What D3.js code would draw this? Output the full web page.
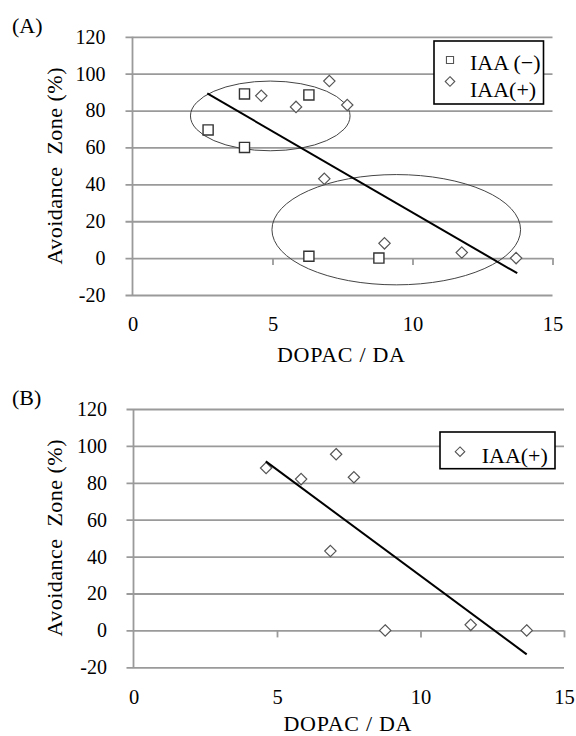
<!DOCTYPE html>
<html>
<head>
<meta charset="utf-8">
<script src="https://cdn.jsdelivr.net/npm/d3@7"></script>
<style>
  html, body { margin: 0; padding: 0; background: #fff; }
  svg { display: block; }
</style>
</head>
<body>
<svg id="chart" width="576" height="736" font-family="Liberation Serif"></svg>
<script>
// ---------- data ----------
const xTicks = [0, 5, 10, 15];
const yTicks = [-20, 0, 20, 40, 60, 80, 100, 120];

// Panel A
const aMinusX = [2.7, 4.0, 4.0, 6.3, 6.3, 8.8];
const aMinusY = [69.5, 89, 60, 88.5, 1, 0];
const aPlusX = [4.6, 5.84, 7.03, 7.67, 6.85, 9.0, 11.76, 13.7];
const aPlusY = [88, 82, 96, 83, 43, 8, 3, 0];
const aTrendX = [2.67, 13.74];
const aTrendY = [89.3, -8.2];
const aEllipseCx = [4.92, 9.42];
const aEllipseCy = [77.1, 15.4];
const aEllipseRx = [2.85, 4.44];
const aEllipseRy = [18.9, 29.9];

// Panel B
const bPlusX = [4.62, 5.84, 7.06, 7.68, 6.86, 8.77, 11.75, 13.7];
const bPlusY = [88, 82, 95.5, 83, 43, 0, 3, 0];
const bTrendX = [4.61, 13.7];
const bTrendY = [91.6, -13.0];

const labelMinus = "IAA\u2009(\u2212)";
const labelPlus = "IAA(+)";
const xTitle = "DOPAC / DA";
const yTitle = "Avoidance  Zone (%)";

// ---------- drawing ----------
const FONT = '"Liberation Serif"';
const svg = d3.select("#chart");
const GRID = "#9a9a9a";

function txt(sel, size) {
  return sel.attr("font-family", "Liberation Serif").style("font-family", FONT)
    .attr("font-size", size).style("fill", "#000");
}

function panel(opt) {
  const x = d3.scaleLinear().domain([0, 15]).range([opt.x0, opt.x1]);
  const y = d3.scaleLinear().domain([-20, 120]).range([opt.yBottom, opt.yTop]);
  const g = svg.append("g");

  const stub = 7;
  const yAxis = d3.axisLeft(y).tickValues(yTicks).tickFormat(d => String(d))
    .tickSizeInner(-(opt.x1 - opt.x0 + stub)).tickSizeOuter(0).tickPadding(opt.x0 - stub - opt.yLabelRight);
  const ya = g.append("g").attr("transform", `translate(${opt.x0 - stub},0)`).call(yAxis)
    .attr("font-family", "Liberation Serif").attr("font-size", 20);
  ya.select(".domain").remove();
  ya.selectAll(".tick line").attr("stroke", GRID).attr("stroke-width", 1.8);
  txt(ya.selectAll(".tick text"), 20);

  g.append("line").attr("x1", x(0)).attr("x2", x(0)).attr("y1", y(120)).attr("y2", y(-20))
    .attr("stroke", GRID).attr("stroke-width", 1.8);

  const xMarks = d3.axisBottom(x).tickValues(xTicks.slice(1)).tickSize(7).tickFormat("");
  const xm = g.append("g").attr("transform", `translate(0,${y(0)})`).call(xMarks);
  xm.select(".domain").remove();
  xm.selectAll(".tick line").attr("stroke", GRID).attr("stroke-width", 1.8);

  const xLabels = d3.axisBottom(x).tickValues(xTicks).tickSize(0).tickPadding(opt.xLabelPad).tickFormat(d => String(d));
  const xl = g.append("g").attr("transform", `translate(0,${y(-20)})`).call(xLabels)
    .attr("font-family", "Liberation Serif").attr("font-size", 20);
  xl.select(".domain").remove();
  txt(xl.selectAll(".tick text"), 20.5);

  txt(g.append("text").attr("x", opt.xTitleX).attr("y", opt.xTitleY).attr("text-anchor", "middle")
    .attr("textLength", 128).attr("lengthAdjust", "spacing").text(xTitle), 22);
  txt(g.append("text").attr("transform", `translate(${opt.yTitleX},${opt.yTitleY}) rotate(-90)`)
    .attr("text-anchor", "middle").attr("textLength", 197).attr("lengthAdjust", "spacing")
    .style("white-space", "pre").text(yTitle), 22);
  txt(g.append("text").attr("x", 12).attr("y", opt.panelLabelY).text(opt.panelLabel), 22);

  return { g, x, y };
}

function drawDiamonds(g, x, y, xs, ys, size) {
  const sym = d3.symbol().type(d3.symbolDiamond2).size(size);
  g.selectAll(null).data(d3.range(xs.length)).enter().append("path")
    .attr("d", sym)
    .attr("transform", i => `translate(${x(xs[i])},${y(ys[i])})`)
    .attr("fill", "#fff").attr("stroke", "#555").attr("stroke-width", 1.2);
}
function drawSquares(g, x, y, xs, ys, size) {
  const sym = d3.symbol().type(d3.symbolSquare2).size(size);
  g.selectAll(null).data(d3.range(xs.length)).enter().append("path")
    .attr("d", sym)
    .attr("transform", i => `translate(${x(xs[i])},${y(ys[i])})`)
    .attr("fill", "#fff").attr("stroke", "#333").attr("stroke-width", 1.4);
}
function drawTrend(g, x, y, xs, ys) {
  const line = d3.line().x(i => x(xs[i])).y(i => y(ys[i]));
  g.append("path").attr("d", line(d3.range(xs.length)))
    .attr("fill", "none").attr("stroke", "#000").attr("stroke-width", 2);
}

// ----- Panel A -----
const A = panel({
  x0: 132.5, x1: 552.5, yTop: 36.8, yBottom: 295, yLabelRight: 105.5,
  xLabelPad: 21, xTitleX: 341, xTitleY: 362, yTitleX: 62, yTitleY: 166,
  panelLabel: "(A)", panelLabelY: 32.5
});
A.g.selectAll(null).data(d3.range(aEllipseCx.length)).enter().append("ellipse")
  .attr("cx", i => A.x(aEllipseCx[i])).attr("cy", i => A.y(aEllipseCy[i]))
  .attr("rx", i => A.x(aEllipseCx[i] + aEllipseRx[i]) - A.x(aEllipseCx[i]))
  .attr("ry", i => A.y(aEllipseCy[i] - aEllipseRy[i]) - A.y(aEllipseCy[i]))
  .attr("fill", "none").attr("stroke", "#444").attr("stroke-width", 1);
drawSquares(A.g, A.x, A.y, aMinusX, aMinusY, 130);
drawDiamonds(A.g, A.x, A.y, aPlusX, aPlusY, 82);
drawTrend(A.g, A.x, A.y, aTrendX, aTrendY);

const la = svg.append("g");
la.append("rect").attr("x", 434).attr("y", 41).attr("width", 109.5).attr("height", 63)
  .attr("fill", "#fff").attr("stroke", "#000").attr("stroke-width", 1.6);
la.append("path").attr("d", d3.symbol().type(d3.symbolSquare2).size(64)())
  .attr("transform", "translate(450,60)").attr("fill", "#fff").attr("stroke", "#555").attr("stroke-width", 1.1);
la.append("path").attr("d", d3.symbol().type(d3.symbolDiamond2).size(58)())
  .attr("transform", "translate(450,81.5)").attr("fill", "#fff").attr("stroke", "#555").attr("stroke-width", 1.1);
txt(la.append("text").attr("x", 470).attr("y", 70).text(labelMinus), 22);
txt(la.append("text").attr("x", 470).attr("y", 97).text(labelPlus), 22);

// ----- Panel B -----
const B = panel({
  x0: 133.5, x1: 564, yTop: 409, yBottom: 667.3, yLabelRight: 107,
  xLabelPad: 22, xTitleX: 347.5, xTitleY: 731, yTitleX: 62, yTitleY: 538,
  panelLabel: "(B)", panelLabelY: 405
});
drawDiamonds(B.g, B.x, B.y, bPlusX, bPlusY, 82);
drawTrend(B.g, B.x, B.y, bTrendX, bTrendY);

const lb = svg.append("g");
lb.append("rect").attr("x", 440).attr("y", 432).attr("width", 115).attr("height", 36.7)
  .attr("fill", "#fff").attr("stroke", "#000").attr("stroke-width", 1.6);
lb.append("path").attr("d", d3.symbol().type(d3.symbolDiamond2).size(58)())
  .attr("transform", "translate(460,451.7)").attr("fill", "#fff").attr("stroke", "#555").attr("stroke-width", 1.1);
txt(lb.append("text").attr("x", 481.7).attr("y", 463).text(labelPlus), 22);
</script>
</body>
</html>
